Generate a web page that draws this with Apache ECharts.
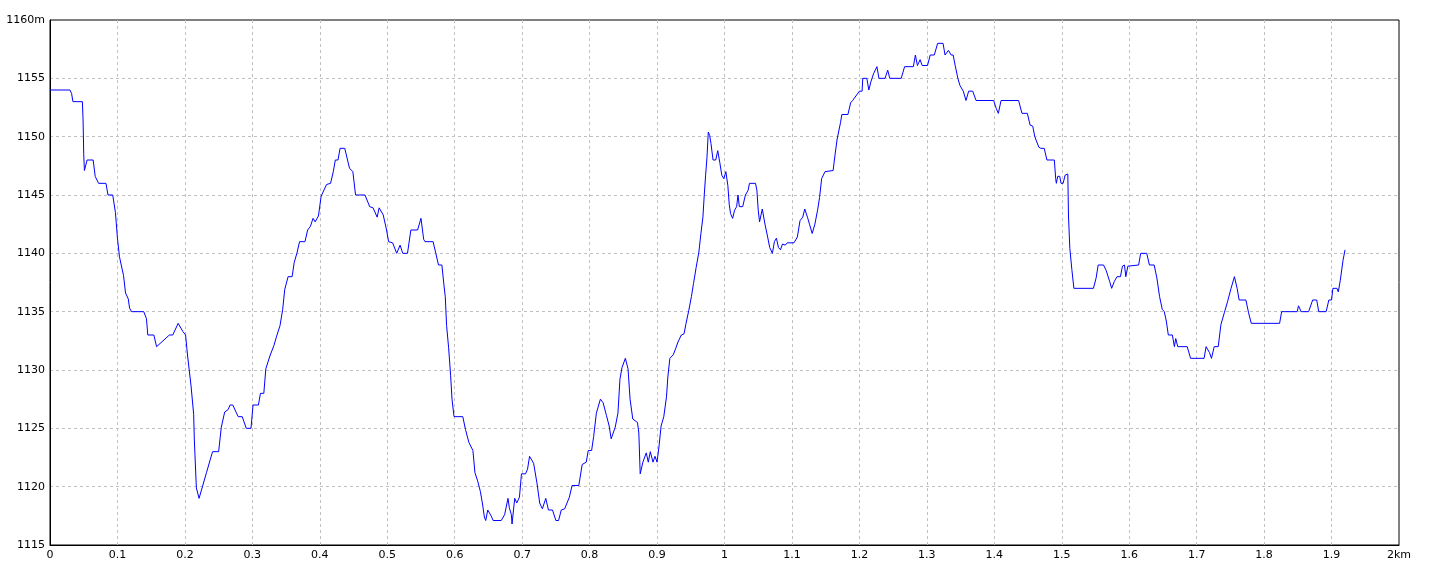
<!DOCTYPE html>
<html>
<head>
<meta charset="utf-8">
<script src="https://cdn.jsdelivr.net/npm/echarts@6/dist/echarts.min.js"></script>
<style>
html,body{margin:0;padding:0;background:#fff;}
#chart{width:1440px;height:576px;}
</style>
</head>
<body>
<div id="chart"></div>
<script>
const distanceKm = [0,0.0296,0.032,0.034,0.048,0.049,0.050,0.051,0.055,0.064,0.067,0.072,0.083,0.086,0.093,0.097,0.100,0.103,0.109,0.112,0.116,0.118,0.121,0.139,0.143,0.145,0.154,0.158,0.177,0.182,0.190,0.197,0.201,0.204,0.209,0.213,0.214,0.217,0.221,0.232,0.241,0.250,0.254,0.259,0.264,0.267,0.271,
0.279,0.285,0.291,0.298,0.301,0.309,0.312,0.317,0.320,0.326,0.332,0.336,0.341,0.345,0.348,0.353,0.359,0.362,0.366,0.370,0.378,0.382,0.386,0.390,0.393,0.398,0.402,0.410,0.416,0.420,0.423,0.427,0.430,0.437,0.444,0.449,0.453,0.467,0.474,0.479,0.485,0.488,0.494,0.499,0.502,0.508,0.514,0.519,0.523,0.530,0.535,0.545,0.550,0.554,0.556,0.568,0.572,0.576,0.581,0.584,0.586,0.588,0.591,0.594,0.596,0.599,0.612,
0.616,0.621,0.627,0.630,0.634,0.638,0.641,0.644,0.646,0.649,0.654,0.657,0.669,0.674,0.679,0.681,0.684,0.685,0.687,0.689,0.692,0.696,0.699,0.705,0.708,0.711,0.717,0.722,0.726,0.730,0.735,0.739,0.745,0.750,0.754,0.758,0.763,0.770,0.774,0.784,0.789,0.795,0.798,0.803,0.806,0.810,0.816,0.820,0.825,0.829,0.832,0.834,0.838,0.842,0.845,0.848,0.853,0.857,0.860,0.864,0.866,0.871,0.873,0.875,0.879,0.884,0.887,0.890,0.894,0.897,0.900,
0.903,0.906,0.910,0.914,0.916,0.919,0.924,0.928,0.931,0.936,0.940,0.943,0.947,0.951,0.954,0.958,0.962,0.965,0.968,0.970,0.972,0.974,0.976,0.978,0.980,0.983,0.987,0.990,0.991,0.993,0.996,0.999,1.002,1.005,1.007,1.009,1.012,1.015,1.018,1.020,1.022,1.027,1.031,1.035,1.037,1.046,1.048,1.050,1.052,1.056,1.058,1.060,1.064,1.067,1.071,1.074,1.077,1.080,1.083,1.086,1.090,1.093,1.103,1.108,1.112,1.116,1.119,1.123,1.126,1.130,1.134,1.138,1.141,1.144,1.149,1.161,1.164,1.167,1.172,1.174,1.183,1.187,1.190,
1.200,1.204,1.205,1.211,1.214,1.217,1.221,1.226,1.229,1.238,1.242,1.245,1.262,1.267,1.280,1.283,1.286,1.290,1.293,1.301,1.305,1.311,1.316,1.324,1.327,1.332,1.336,1.339,1.342,1.346,1.349,1.354,1.358,1.362,1.368,1.373,1.399,1.403,1.406,1.410,1.436,1.441,1.449,1.453,1.457,1.460,1.466,1.469,1.474,1.478,1.489,1.491,1.492,1.494,1.497,1.499,1.502,1.505,1.509,1.510,1.512,1.515,1.518,1.547,
1.551,1.554,1.562,1.566,1.571,1.574,1.578,1.582,1.587,1.590,1.593,1.595,1.598,1.600,1.614,1.617,1.626,1.630,1.637,1.641,1.645,1.649,1.652,1.655,1.658,1.664,1.667,1.669,1.672,1.686,1.691,1.711,1.714,1.719,1.722,1.726,1.732,1.736,1.741,1.746,1.751,1.756,1.760,1.763,1.773,1.777,1.781,1.823,1.826,1.849,1.851,1.855,1.866,1.872,1.878,1.881,1.892,1.896,1.900,1.902,1.908,1.910,1.913,1.917,1.920];

const elevationM = [1154,1154,1153.7,1153,1153,1151.5,1148.5,1147.1,1148,1148,1146.6,1146,1146,1145,1145,1143.5,1141.3,1139.7,1138.1,1136.6,1136.1,1135.3,1135,1135,1134.4,1133,1133,1132,1133,1133,1134,1133.3,1133,1131.2,1128.7,1126.2,1124,1119.9,1119,1121.2,1123,1123,1125.1,1126.4,1126.6,1127,1127,
1126,1126,1125,1125,1127,1127,1128,1128,1130.1,1131.2,1132.1,1132.9,1133.8,1135.2,1136.9,1138,1138,1139.2,1140,1141,1141,1142,1142.3,1143,1142.7,1143.2,1144.9,1145.9,1146,1147,1148,1148,1149,1149,1147.3,1147,1145,1145,1144,1143.9,1143.1,1143.9,1143.3,1142,1141,1140.9,1140,1140.7,1140,1140,1142,1142,1143,1141.2,1141,1141,1140,1139,1139,1137.3,1136.3,1133.8,1131.9,1129.5,1127.5,1126,1126,
1124.9,1123.8,1123.1,1121.2,1120.5,1119.6,1118.6,1117.4,1117.1,1118,1117.5,1117.1,1117.1,1117.6,1119,1118.2,1117.6,1116.8,1116.8,1119,1118.6,1119.1,1121.1,1121.1,1121.5,1122.6,1122,1120.3,1118.6,1118.1,1119,1118,1118,1117.1,1117.1,1118,1118.1,1119.1,1120.1,1120.1,1121.9,1122.1,1123.1,1123.1,1124.3,1126.3,1127.5,1127.2,1126.1,1125.2,1124.1,1124.1,1125.1,1126.3,1129.2,1130.2,1131,1130.1,1127.5,1125.8,1125.9,1125.5,1124.6,1121.1,1122.1,1122.9,1122.1,1123,1122.1,1122.6,1122.1,
1123.5,1125.2,1126,1127.7,1129.4,1131,1131.3,1131.9,1132.4,1133,1133.1,1134,1135.1,1136.3,1137.4,1138.8,1140.1,1141.7,1143.1,1145,1146.7,1148.2,1150.4,1150.1,1149.4,1148,1148,1148.8,1148.9,1147.8,1146.7,1146.4,1147,1145.8,1144.2,1143.4,1143,1143.7,1144,1145,1144,1144,1145,1145.4,1146,1146,1145.4,1143.7,1142.7,1143.8,1143.7,1142.5,1141.4,1140.5,1140,1141,1141.3,1140.5,1140.3,1140.8,1140.7,1140.9,1140.9,1141.4,1142.8,1143.1,1143.8,1143.1,1142.5,1141.7,1142.5,1143.7,1144.8,1146.4,1147,1147.1,1148.5,1149.8,1151.2,1151.9,1151.9,1152.9,1153.1,
1153.9,1153.9,1155,1155,1154,1154.7,1155.4,1156,1155,1155,1155.7,1155,1155,1156,1156,1157,1156.1,1156.6,1156.1,1156.1,1157,1157,1158,1158,1157,1157.4,1157,1157,1156.1,1155,1154.4,1153.9,1153.1,1153.9,1153.9,1153.1,1153.1,1152.4,1152,1153.1,1153.1,1152,1152,1151,1150.9,1150,1149.1,1149,1149,1148,1148,1146.4,1146,1146.6,1146.6,1146,1146,1146.7,1146.8,1143.2,1140.4,1138.6,1137,1137,
1137.9,1139,1139,1138.5,1137.6,1137,1137.6,1138,1138,1138.9,1139,1138,1138.9,1139,1139,1140,1140,1139,1139,1137.9,1136.3,1135.2,1135,1134.2,1133,1133,1132,1132.7,1132,1132,1131,1131,1132,1131.5,1131,1132,1132,1133.9,1134.9,1135.9,1137,1138,1137,1136,1136,1134.9,1134,1134,1135,1135,1135.5,1135,1135,1136,1136,1135,1135,1136,1136,1137,1137,1136.7,1137.7,1139.4,1140.3];

const xAxisRange = [0, 2];
const yAxisRange = [1115, 1160];
const xUnit = 'km';
const yUnit = 'm';

const points = distanceKm.map((d, i) => [d, elevationM[i]]);

const chart = echarts.init(document.getElementById('chart'), null, {renderer: 'canvas'});
const fontFamily = 'DejaVu Sans, Liberation Sans, sans-serif';
chart.setOption({
  animation: false,
  backgroundColor: '#ffffff',
  grid: {
    left: 50, right: 41, top: 20, bottom: 31,
    show: true, borderColor: '#000000', borderWidth: 1, backgroundColor: 'transparent'
  },
  xAxis: {
    type: 'value',
    min: xAxisRange[0], max: xAxisRange[1], interval: 0.1,
    axisLine: {show: true, lineStyle: {color: '#000', width: 1}},
    axisTick: {show: false},
    axisLabel: {
      color: '#000', fontSize: 11, fontFamily: fontFamily, margin: 5,
      formatter: v => {
        const s = String(+v.toFixed(1));
        return v >= xAxisRange[1] - 1e-9 ? s + xUnit : s;
      }
    },
    splitLine: {show: true, showMinLine: false, showMaxLine: false, lineStyle: {color: '#c0c0c0', type: [3, 3], width: 1}}
  },
  yAxis: {
    type: 'value',
    min: yAxisRange[0], max: yAxisRange[1], interval: 5,
    axisLine: {show: true, lineStyle: {color: '#000', width: 1}},
    axisTick: {show: false},
    axisLabel: {
      color: '#000', fontSize: 11, fontFamily: fontFamily, margin: 5,
      formatter: v => v >= yAxisRange[1] ? v + yUnit : String(v)
    },
    splitLine: {show: true, showMinLine: false, showMaxLine: false, lineStyle: {color: '#c0c0c0', type: [3, 3], width: 1}}
  },
  series: [{
    type: 'line',
    data: points,
    showSymbol: false,
    symbol: 'none',
    smooth: false,
    lineStyle: {color: '#0000ff', width: 1},
    itemStyle: {color: '#0000ff'}
  }]
});
</script>
</body>
</html>
